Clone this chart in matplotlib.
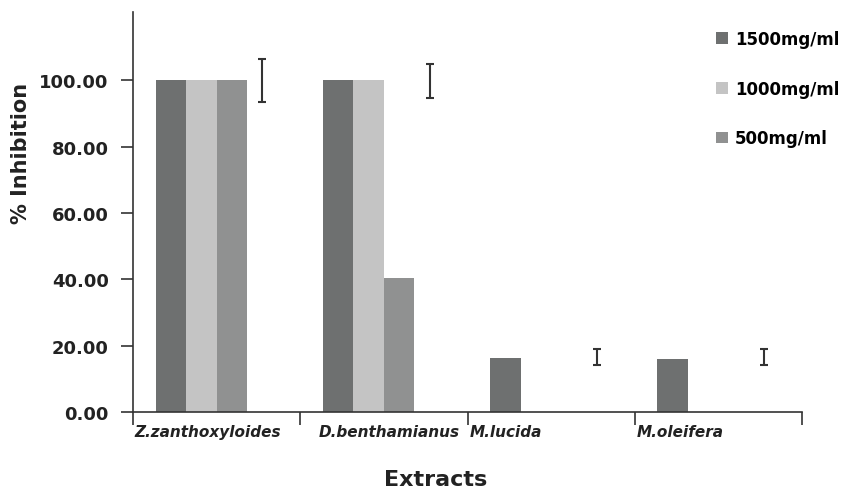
import matplotlib
matplotlib.use('Agg')
import matplotlib.pyplot as plt
import numpy as np

# % inhibition per extract and concentration
extracts = ['Z.zanthoxyloides', 'D.benthamianus', 'M.lucida', 'M.oleifera']
conc_labels = ['1500mg/ml', '1000mg/ml', '500mg/ml']
inh_1500 = [100.0, 100.0, 16.4, 15.9]
inh_1000 = [100.0, 100.0, 0.0, 0.0]
inh_500 = [100.0, 40.5, 0.0, 0.0]

# error bar series (shown in its own slot)
err_mean = [100.0, 99.8, 16.6, 16.6]
err_sd = [6.4, 5.2, 2.4, 2.4]

colors = ['#6e7070', '#c4c4c4', '#909191']
label_x = [-0.49, 0.61, 1.51, 2.51]

plt.rcParams['font.family'] = 'DejaVu Sans'
plt.rcParams['font.weight'] = 'bold'

fig = plt.figure(figsize=(8.41, 4.89), dpi=100)
ax = fig.add_axes([133/841, 1-413/489, 669/841, 400/489])

x = np.arange(len(extracts))
w = 0.1824
series = [inh_1500, inh_1000, inh_500]
handles = []
for k, vals in enumerate(series):
    b = ax.bar(x + (k - 1.5)*w, vals, width=w, color=colors[k], label=conc_labels[k], linewidth=0)
    handles.append(b)

ax.errorbar(x + 1.5*w, err_mean, yerr=err_sd, fmt='none', ecolor='#333333',
            elinewidth=1.5, capsize=3, capthick=1.5)

ax.set_xlim(-0.5, 3.5)
ax.set_ylim(0, 120.6)
ax.set_yticks(np.arange(0, 101, 20))
ax.set_yticklabels(['%.2f' % v for v in np.arange(0, 101, 20)], fontsize=13, fontweight='bold', color='#222222')
ax.set_xticks(np.arange(-0.5, 3.6, 1.0))
ax.set_xticklabels([])
ax.tick_params(axis='y', direction='out', length=9, width=1.2, color='#333333', pad=8.5)
ax.tick_params(axis='x', direction='out', length=9, width=1.2, color='#333333')

for s in ['top', 'right']:
    ax.spines[s].set_visible(False)
for s in ['left', 'bottom']:
    ax.spines[s].set_color('#333333')
    ax.spines[s].set_linewidth(1.2)

for lx, name in zip(label_x, extracts):
    ax.text(lx, -3.6, name, ha='left', va='top', fontsize=11, fontweight='bold',
            style='italic', color='#222222')

fig.text(21/841, 1-153/489, '% Inhibition', rotation=90, ha='center', va='center',
         fontsize=15, fontweight='bold', color='#222222')
fig.text(436/841, 1-486/489, 'Extracts', ha='center', va='baseline',
         fontsize=16, fontweight='bold', color='#222222')

fig.legend(handles=handles, labels=conc_labels, loc='upper left',
           bbox_to_anchor=(716/841, 1-31/489), frameon=False, fontsize=12,
           handlelength=0.7, handleheight=0.7, handletextpad=0.45,
           labelspacing=1.9, borderpad=0, borderaxespad=0)

fig.savefig('out.png', dpi=100)
